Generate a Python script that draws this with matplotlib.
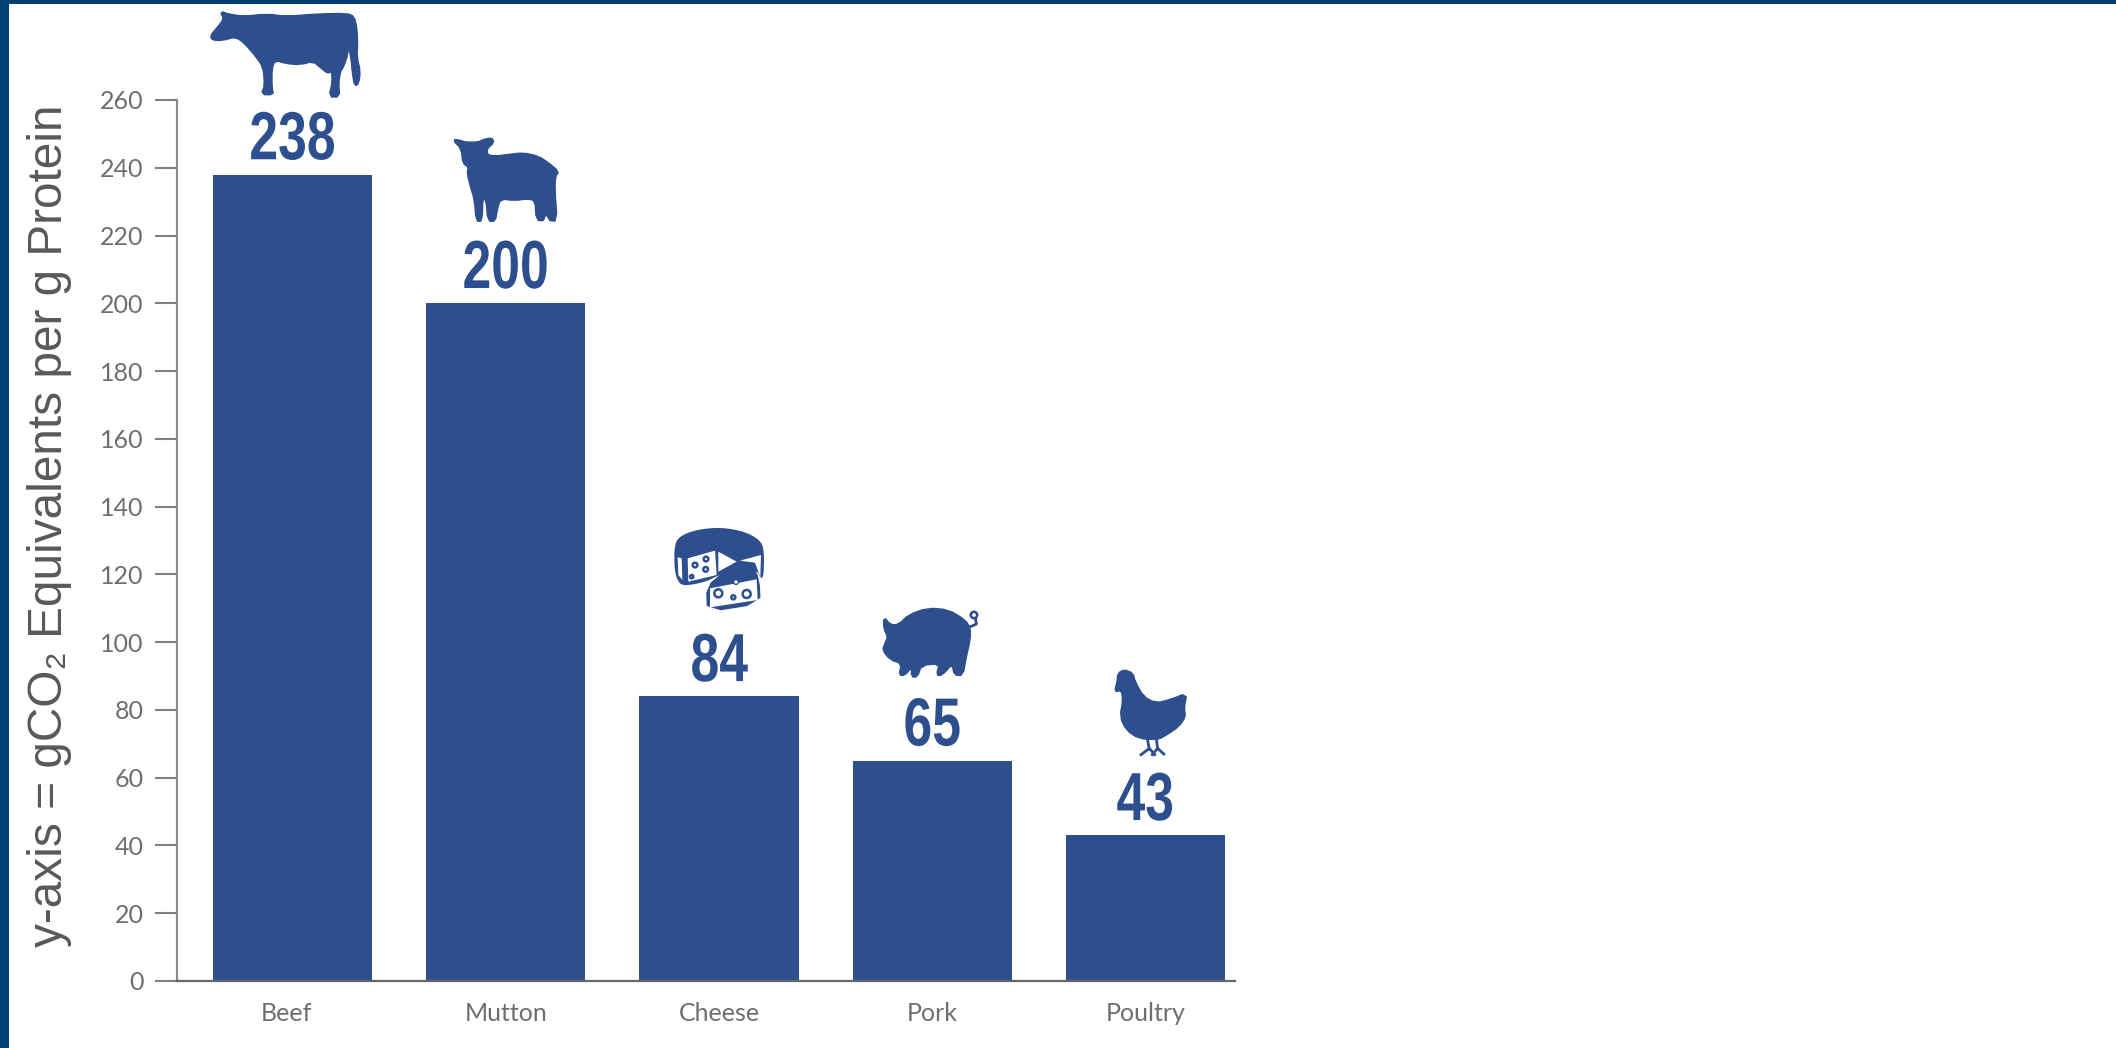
"""Carbon footprint per gram of protein, bars topped with a food silhouette."""
import matplotlib
matplotlib.use('Agg')
import matplotlib.pyplot as plt
import matplotlib.patheffects as pe
from matplotlib.patches import Polygon, Circle
from matplotlib.patches import Rectangle
from matplotlib.lines import Line2D
from matplotlib.transforms import Affine2D, ScaledTranslation

WIDTH, HEIGHT = 2116, 1048
BLUE = '#2e4f8e'
FRAME = '#003f72'
GREY = '#6e6e6e'

categories = ['Beef', 'Mutton', 'Cheese', 'Pork', 'Poultry']
values = [238, 200, 84, 65, 43]
y_ticks = list(range(0, 261, 20))

# silhouette outlines on local grids; see the placement calls in the draw functions
COW = [(62, 20), (85, 28), (130, 35), (200, 28), (260, 35), (350, 28), (440, 26), (462, 35),
       (470, 70), (472, 120), (470, 155), (480, 200), (475, 235), (465, 242), (458, 205),
       (455, 165), (445, 115), (442, 150), (430, 185), (420, 200), (415, 235), (418, 275),
       (388, 275), (398, 230), (395, 195), (385, 205), (365, 190), (340, 168), (300, 178),
       (260, 175), (225, 165), (215, 190), (215, 250), (220, 268), (185, 268), (195, 240),
       (190, 185), (165, 150), (130, 110), (105, 95), (70, 105), (38, 105), (32, 92),
       (55, 65), (72, 42)]
SHEEP = [(25, 30), (45, 32), (60, 38), (100, 38), (115, 30), (140, 25), (145, 38), (125, 55),
         (125, 75), (150, 80), (190, 75), (235, 70), (280, 80), (310, 100), (340, 125),
         (330, 138), (328, 180), (335, 272), (310, 270), (298, 215), (300, 270), (275, 270),
         (272, 210), (245, 205), (210, 210), (165, 205), (155, 240), (150, 272), (130, 272),
         (125, 210), (112, 200), (110, 272), (95, 272), (90, 210), (78, 170), (68, 130),
         (72, 110), (55, 100), (50, 55)]
WHEEL = [(28, 70), (50, 45), (100, 28), (170, 22), (240, 35), (285, 60), (298, 90), (295, 190),
         (270, 140), (160, 165), (125, 185), (60, 198), (40, 188), (28, 150)]
WHEEL_STRIP = [(38, 112), (50, 115), (52, 180), (40, 165)]
WHEEL_FACE = [(68, 115), (150, 92), (155, 165), (70, 185)]
WHEEL_NOTCH = [(160, 95), (215, 125), (160, 155)]
WHEEL_SIDE = [(288, 105), (286, 172), (270, 128), (225, 122)]
WEDGE = [(125, 200), (180, 155), (225, 128), (262, 135), (282, 180), (285, 250), (128, 275)]
WEDGE_FACE = [(135, 205), (275, 178), (278, 240), (135, 262)]
PIG = [(685, 352), (700, 375), (720, 375), (745, 345), (790, 325), (840, 330), (880, 360),
       (893, 385), (892, 420), (882, 475), (875, 525), (855, 525), (850, 490), (825, 525),
       (812, 525), (820, 490), (775, 495), (765, 530), (752, 530), (752, 500), (735, 525),
       (722, 525), (728, 490), (700, 478), (682, 450), (688, 430), (695, 410), (685, 385)]
HEN = [(1250, 520), (1265, 510), (1285, 520), (1290, 545), (1310, 590), (1340, 610), (1375, 600),
       (1415, 580), (1408, 625), (1412, 650), (1395, 680), (1365, 705), (1345, 718), (1300, 715),
       (1270, 690), (1255, 650), (1262, 600), (1258, 570), (1242, 575), (1248, 545)]


class Squeeze(pe.AbstractPathEffect):
    """Narrow a text's glyphs about their own centre; no condensed face is available."""

    def __init__(self, factor):
        super().__init__()
        self.factor = factor

    def draw_path(self, renderer, gc, tpath, affine, rgbFace=None):
        box = tpath.transformed(affine).get_extents()
        mid = (box.x0 + box.x1) / 2
        squeezed = affine + Affine2D().translate(-mid, 0).scale(self.factor, 1).translate(mid, 0)
        renderer.draw_path(gc, tpath, squeezed, rgbFace)


def to_px(points, sx, sy, x0=0, y0=0):
    return [(x0 + x / sx, y0 + y / sy) for x, y in points]


def soften(points, rounds=2):
    # corner cutting so the silhouettes don't look faceted
    for _ in range(rounds):
        cut = []
        for (ax, ay), (bx, by) in zip(points, points[1:] + points[:1]):
            cut.append((0.75 * ax + 0.25 * bx, 0.75 * ay + 0.25 * by))
            cut.append((0.25 * ax + 0.75 * bx, 0.25 * ay + 0.75 * by))
        points = cut
    return points


def fill(ov, points, color=BLUE, rounds=1, stroke=0):
    ov.add_patch(Polygon(soften(points, rounds), closed=True, fc=color,
                         ec=color if stroke else 'none', lw=stroke, joinstyle='round'))


def ring(ov, center, r, lw=1.8):
    ov.add_patch(Circle(center, r, fc='white', ec=BLUE, lw=lw))


def draw_icons(ov):
    fill(ov, to_px(COW, 3, 3, 200, 5), stroke=1.5)
    fill(ov, to_px(SHEEP, 3, 3, 445, 130), stroke=1.8)

    # cheese wheel with a wedge cut out
    cx, cy = 665, 520
    fill(ov, to_px(WHEEL, 3, 3, cx, cy), rounds=2)
    for part in (WHEEL_STRIP, WHEEL_FACE, WHEEL_NOTCH, WHEEL_SIDE):
        fill(ov, to_px(part, 3, 3, cx, cy), 'white', rounds=0)
    for x, y, r in [(90, 135, 7), (123, 117, 7), (122, 148, 7), (80, 170, 5)]:
        ring(ov, (cx + x / 3, cy + y / 3), r / 3)
    fill(ov, to_px(WEDGE, 3, 3, cx, cy), stroke=1)
    fill(ov, to_px(WEDGE_FACE, 3, 3, cx, cy), 'white', rounds=0)
    for x, y, r in [(160, 220, 12), (245, 222, 12), (205, 232, 6)]:
        ring(ov, (cx + x / 3, cy + y / 3), r / 3)
    ring(ov, (cx + 213 / 3, cy + 186 / 3), 2.4, lw=1.0)

    # pig with a curled tail, then the hen and its legs
    sx, sy, x0, y0 = 2.412, 3, 600, 500
    fill(ov, to_px(PIG, sx, sy, x0, y0), stroke=1.5)
    tail = to_px([(890, 382), (908, 372), (906, 358)], sx, sy, x0, y0)
    ov.add_line(Line2D(*zip(*tail), color=BLUE, lw=2))
    ring(ov, to_px([(902, 345)], sx, sy, x0, y0)[0], 3.2, lw=1.8)

    fill(ov, to_px(HEN, sx, sy, x0, y0), stroke=1.5)
    for leg in ([(1320, 715), (1325, 748)], [(1342, 715), (1345, 748)],
                [(1305, 764), (1325, 745), (1338, 764)], [(1332, 764), (1345, 745), (1360, 762)]):
        pts = to_px(leg, sx, sy, x0, y0)
        ov.add_line(Line2D(*zip(*pts), color=BLUE, lw=2))


def main():
    fig = plt.figure(figsize=(WIDTH / 100, HEIGHT / 100), dpi=100, facecolor='white')

    left, right, bottom, top = 177, 1235, 981, 100
    ax = fig.add_axes([left / WIDTH, 1 - bottom / HEIGHT,
                       (right - left) / WIDTH, (bottom - top) / HEIGHT])
    positions = list(range(len(categories)))
    ax.bar(positions, values, width=0.746, color=BLUE)
    ax.set_xlim(-0.5416, 4.42)
    ax.set_ylim(0, 260)

    for x, val in zip(positions, values):
        ax.annotate(str(val), (x, val), xytext=(0, 11), textcoords='offset points',
                    ha='center', va='baseline', color=BLUE, fontsize=49, fontweight='bold',
                    family='Liberation Sans', path_effects=[Squeeze(0.76)])

    ax.set_yticks(y_ticks)
    ax.set_xticks(positions, categories)
    ax.tick_params(axis='y', length=16, width=1.5, color='#808080', pad=8,
                   labelsize=18, labelcolor=GREY)
    ax.tick_params(axis='x', length=0, pad=15, labelsize=18, labelcolor=GREY)
    for label in ax.get_xticklabels() + ax.get_yticklabels():
        label.set_family('Lato')
    beef_label = ax.get_xticklabels()[0]
    beef_label.set_transform(beef_label.get_transform()
                             + ScaledTranslation(-6 / 100, 0, fig.dpi_scale_trans))
    for side in ('top', 'right'):
        ax.spines[side].set_visible(False)
    ax.spines['left'].set_color('#8c8c8c')
    ax.spines['left'].set_linewidth(1.6)
    ax.spines['bottom'].set_color('#666666')
    ax.spines['bottom'].set_linewidth(1.6)

    # pixel-space layer for the icons, the frame and the axis caption
    ov = fig.add_axes([0, 0, 1, 1], facecolor='none')
    ov.set_xlim(0, WIDTH)
    ov.set_ylim(HEIGHT, 0)
    ov.axis('off')
    draw_icons(ov)
    ov.add_patch(Rectangle((0, 0), WIDTH, 4, fc=FRAME, ec='none'))
    ov.add_patch(Rectangle((0, 0), 9, HEIGHT, fc=FRAME, ec='none'))
    ov.text(50, 526, 'y-axis = gCO\u2082 Equivalents per g Protein', rotation=90,
            ha='center', va='center', color='#595959', fontsize=34.4,
            family=['Liberation Sans', 'DejaVu Sans'])

    fig.savefig('out.png', dpi=100, facecolor='white')
    plt.close(fig)


if __name__ == '__main__':
    main()
